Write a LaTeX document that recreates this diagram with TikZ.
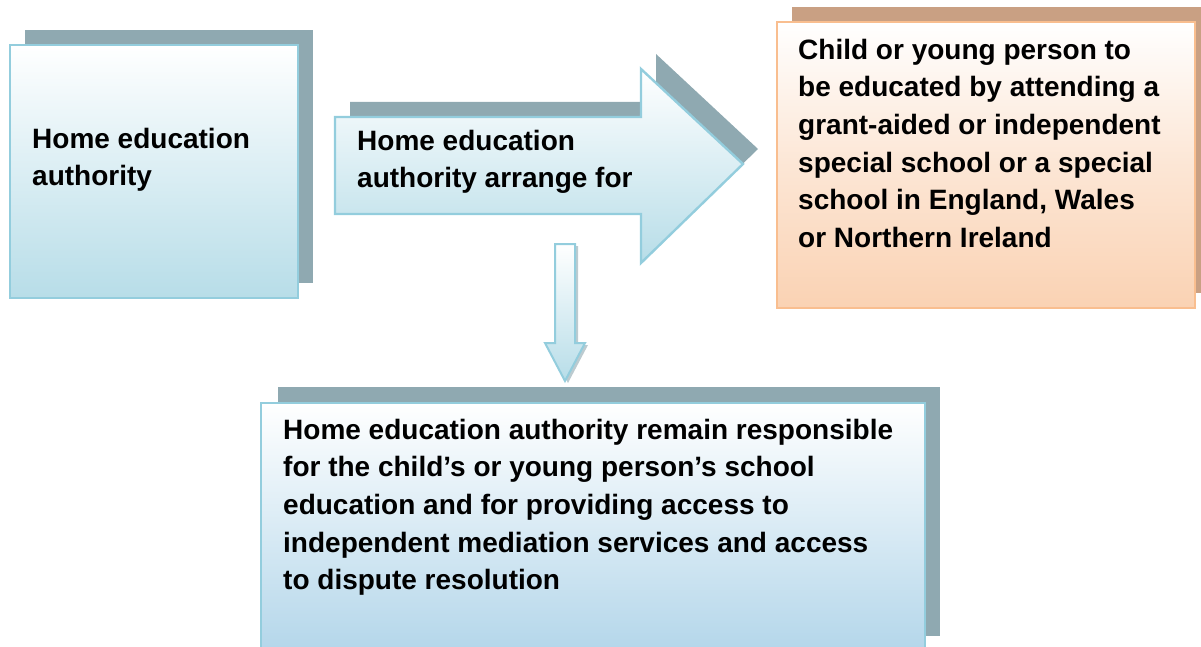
\documentclass[tikz,border=0pt]{standalone}
\usepackage{fontspec}
\setmainfont{Liberation Sans}
\definecolor{shB}{HTML}{8FA9B1}
\definecolor{brB}{HTML}{93CDDD}
\definecolor{fiB}{HTML}{B7DDE8}
\definecolor{shO}{HTML}{C9A083}
\definecolor{brO}{HTML}{F9BE8F}
\definecolor{fiO}{HTML}{FAD2B3}
\begin{document}
\begin{tikzpicture}[x=1pt,y=-1pt,
  shadowB/.style={fill=shB,draw=none},
  shadowO/.style={fill=shO,draw=none},
  boxB/.style={draw=brB,line width=2.4pt,top color=white,bottom color=fiB,middle color=white!50!fiB},
  boxO/.style={draw=brO,line width=2.4pt,top color=white,bottom color=fiO,middle color=white!45!fiO},
  plain/.style={rectangle,anchor=north west,inner sep=0pt,outer sep=0pt},
  txt/.style={anchor=north west,inner sep=0pt,align=left,font=\bfseries\fontsize{28}{37.6}\selectfont}]
\useasboundingbox (0,0) rectangle (1201,647);
\clip (0,0) rectangle (1201,647);
% box 1
\node[plain,shadowB,minimum width=288pt,minimum height=253pt] (s1) at (25,30) {};
\node[plain,boxB,minimum width=288pt,minimum height=253pt] (hea) at (10,45) {};
\node[txt] (t1) at (32,127.8) {Home education\\authority};
% arrow right
\fill[shB] (350,102) -- (656,102) -- (656,54) -- (758,149) -- (656,248) -- (656,199) -- (350,199) -- cycle;
\draw[boxB] (335,117) -- (641,117) -- (641,69) -- (743,164) -- (641,263) -- (641,214) -- (335,214) -- cycle;
\node[txt] (t2) at (357,129.8) {Home education\\authority arrange for};
% right box
\node[plain,shadowO,minimum width=418pt,minimum height=286pt] (s3) at (792,7) {};
\node[plain,boxO,minimum width=418pt,minimum height=286pt] (child) at (777,22) {};
\node[txt] (t3) at (798,38.8) {Child or young person to\\be educated by attending a\\grant-aided or independent\\special school or a special\\school in England, Wales\\or Northern Ireland};
% down arrow
\fill[shB!60] (558,246) -- (578,246) -- (578,345) -- (588,345) -- (568,383) -- (548,345) -- (558,345) -- cycle;
\draw[draw=brB,line width=2pt,top color=white,bottom color=fiB] (555,244) -- (575,244) -- (575,343) -- (585,343) -- (565,381) -- (545,343) -- (555,343) -- cycle;
% bottom box
\node[plain,shadowB,minimum width=662pt,minimum height=249pt] (s4) at (278,387) {};
\node[plain,boxB,minimum width=664pt,minimum height=262pt,top color=white,bottom color=fiB!95!blue!80!fiB] (resp) at (261,403) {};
\node[txt] (t4) at (283,418.8) {Home education authority remain responsible\\for the child’s or young person’s school\\education and for providing access to\\independent mediation services and access\\to dispute resolution};
\end{tikzpicture}
\end{document}
